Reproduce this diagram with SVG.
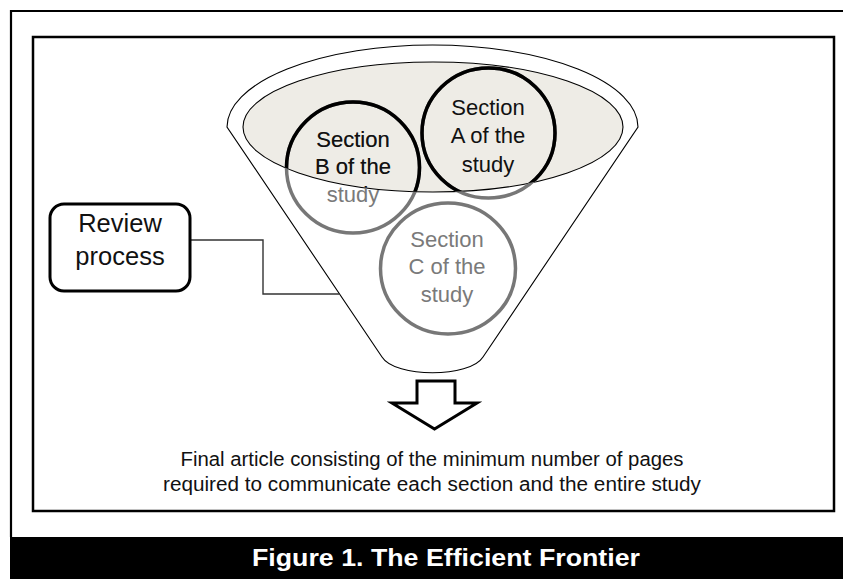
<svg xmlns="http://www.w3.org/2000/svg" width="843" height="579" viewBox="0 0 843 579">
  <style>
    .frame { fill: none; stroke: #000; stroke-width: 2.5; }
    .thin { stroke: #000; stroke-width: 1.1; }
    .ring { fill: none; stroke-width: 3.5; }
    .gray { stroke: #777; }
    .blk { stroke: #000; }
    .lbl { font-family: "Liberation Sans", Arial, sans-serif; text-anchor: middle; }
    .sec { font-size: 22px; }
    .tg { fill: #7a7a7a; }
    .tb { fill: #111; }
  </style>
  <defs>
    <clipPath id="rimclip">
      <ellipse cx="433" cy="127" rx="190" ry="65"/>
    </clipPath>
  </defs>

  <rect width="843" height="579" fill="#fff"/>

  <!-- outer frame and inner box -->
  <path d="M11 537 V11 H843" fill="none" stroke="#000" stroke-width="2.2"/>
  <rect class="frame" x="33" y="37" width="801" height="474"/>

  <!-- funnel -->
  <g id="funnel">
    <path class="thin" fill="#fff" d="M227 127 A205.5 82 0 0 1 638 127 L483 357 C470 378 395 378 382 357 Z"/>
    <ellipse class="thin" cx="433" cy="127" rx="190" ry="65" fill="#eeece6"/>
  </g>

  <!-- connectors -->
  <g id="connectors">
    <polyline points="190,240 263,240 263,294 339,294" fill="none" stroke="#333" stroke-width="1.4"/>
  </g>

  <!-- sections -->
  <g id="section-b">
    <ellipse class="ring gray" cx="353" cy="167.5" rx="66.5" ry="65.5"/>
    <ellipse class="ring blk" cx="353" cy="167.5" rx="66.5" ry="65.5" clip-path="url(#rimclip)"/>
    <text class="lbl sec tg" x="353" y="146.5">Section</text>
    <text class="lbl sec tg" x="353" y="173.5">B of the</text>
    <text class="lbl sec tg" x="353" y="201.5">study</text>
    <g clip-path="url(#rimclip)">
      <text class="lbl sec tb" x="353" y="146.5">Section</text>
      <text class="lbl sec tb" x="353" y="173.5">B of the</text>
      <text class="lbl sec tb" x="353" y="201.5">study</text>
    </g>
  </g>

  <g id="section-a">
    <ellipse class="ring gray" cx="488.5" cy="133" rx="66.5" ry="65"/>
    <ellipse class="ring blk" cx="488.5" cy="133" rx="66.5" ry="65" clip-path="url(#rimclip)"/>
    <g clip-path="url(#rimclip)">
      <text class="lbl sec tb" x="488" y="115">Section</text>
      <text class="lbl sec tb" x="488" y="142.5">A of the</text>
      <text class="lbl sec tb" x="488" y="171.5">study</text>
    </g>
  </g>

  <g id="section-c">
    <ellipse class="ring gray" cx="448" cy="268.5" rx="67.5" ry="65.5"/>
    <text class="lbl sec tg" x="447" y="246.5">Section</text>
    <text class="lbl sec tg" x="447" y="274">C of the</text>
    <text class="lbl sec tg" x="447" y="301.5">study</text>
  </g>

  <!-- review process -->
  <g id="review">
    <rect x="50" y="204" width="140" height="87" rx="14" fill="#fff" stroke="#000" stroke-width="3"/>
    <text class="lbl" font-size="25.5" fill="#111" x="120" y="232">Review</text>
    <text class="lbl" font-size="25.5" fill="#111" x="120" y="265">process</text>
  </g>

  <!-- block arrow -->
  <g id="arrow">
    <polygon points="417,381 455,381 455,403 477,403 434.5,429 392,403 417,403" fill="#fff" stroke="#000" stroke-width="3" stroke-linejoin="miter"/>
  </g>

  <!-- final article text -->
  <g id="final">
    <text class="lbl" font-size="20" fill="#111" x="432" y="466" textLength="503" lengthAdjust="spacingAndGlyphs">Final article consisting of the minimum number of pages</text>
    <text class="lbl" font-size="20" fill="#111" x="432" y="491" textLength="538" lengthAdjust="spacingAndGlyphs">required to communicate each section and the entire study</text>
  </g>

  <!-- caption -->
  <g id="caption">
    <rect x="10" y="537" width="833" height="42" fill="#000"/>
    <text class="lbl" font-size="23" font-weight="bold" fill="#fff" x="446" y="566" textLength="388" lengthAdjust="spacingAndGlyphs">Figure 1. The Efficient Frontier</text>
  </g>
</svg>
